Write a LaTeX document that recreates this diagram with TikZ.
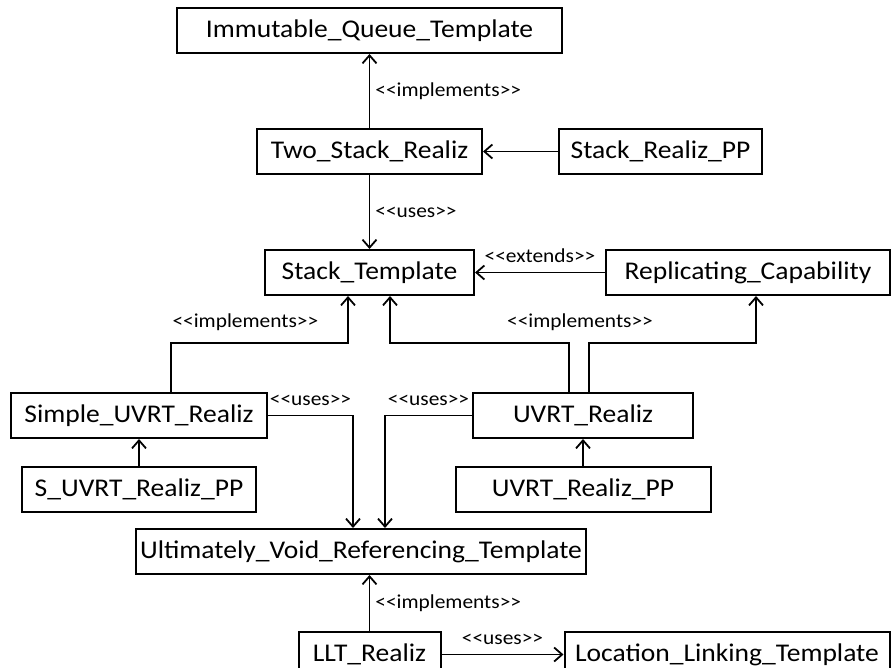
\documentclass[tikz,border=0pt]{standalone}
\usepackage{fontspec}
\setmainfont{Carlito}[FakeStretch=1.08]
\usetikzlibrary{arrows.meta,positioning}
\newcommand{\estereo}[1]{<{}<#1>{}>}
\tikzset{
    clase/.style={rectangle,draw,line width=2pt,minimum height=45pt,inner sep=0pt,font=\fontsize{25.5}{30}\selectfont},
    flecha/.style={draw,->,line width=1.8pt,>={Straight Barb[length=8pt,width=14pt]}},
    etiqueta/.style={font=\fontsize{19.8}{23}\selectfont,inner sep=1pt},
}
\begin{document}
\begin{tikzpicture}
    \useasboundingbox (0,0) rectangle (891pt,-667pt);
    \node [clase,minimum width=385pt] (iqt) at (369.5pt,-30.5pt) {Immutable\_Queue\_Template};
    \node [below=74pt of iqt,clase,minimum width=225pt] (tsr) {Two\_Stack\_Realiz};
    \node [right=75pt of tsr,clase,minimum width=203pt] (srpp) {Stack\_Realiz\_PP};
    \node [below=74pt of tsr,clase,minimum width=209pt] (st) {Stack\_Template};
    \node [right=130pt of st,clase,minimum width=284pt] (rc) {Replicating\_Capability};
    \node [below left=96pt and -4pt of st,clase,minimum width=256pt] (sur) {Simple\_UVRT\_Realiz};
    \node [below right=96pt and -3pt of st,clase,minimum width=220pt] (ur) {UVRT\_Realiz};
    \node [below=27pt of sur,clase,minimum width=234pt] (sup) {S\_UVRT\_Realiz\_PP};
    \node [below=27pt of ur,clase,minimum width=255pt] (upp) {UVRT\_Realiz\_PP};
    \node [below=232pt of st,xshift=-8.5pt,clase,minimum width=450pt] (uvrt) {Ultimately\_Void\_Referencing\_Template};
    \node [below=56pt of uvrt,xshift=8.5pt,clase,minimum width=142pt] (llt) {LLT\_Realiz};
    \node [right=122pt of llt,clase,minimum width=325pt] (llt2) {Location\_Linking\_Template};
    \path [flecha] (tsr) -- node[etiqueta,right=4pt] {\estereo{implements}} (iqt);
    \path [flecha] (srpp) -- (tsr);
    \path [flecha] (tsr) -- node[etiqueta,right=4pt] {\estereo{uses}} (st);
    \path [flecha] (rc) -- node[etiqueta,above=8pt] {\estereo{extends}} (st);
    \path [flecha] ([xshift=32pt]sur.north) -- ++(0,49pt) -| node[etiqueta,pos=0.21,above=10pt] {\estereo{implements}} ([xshift=-21.5pt]st.south);
    \path [flecha] ([xshift=-14pt]ur.north) -- ++(0,49pt) -| ([xshift=20.5pt]st.south);
    \path [flecha] ([xshift=6pt]ur.north) -- ++(0,49pt) node[etiqueta,above=10pt,xshift=-9pt] {\estereo{implements}} -| ([xshift=8pt]rc.south);
    \path [flecha] (sur.east) -| node[etiqueta,pos=0.25,above=8pt] {\estereo{uses}} ([xshift=-8pt]uvrt.north);
    \path [flecha] (ur.west) -| node[etiqueta,pos=0.25,above=8pt] {\estereo{uses}} ([xshift=24pt]uvrt.north);
    \path [flecha] (sup) -- (sur);
    \path [flecha] (upp) -- (ur);
    \path [flecha] (llt.north) -- node[etiqueta,right=4pt] {\estereo{implements}} (llt.north |- uvrt.south);
    \path [flecha] (llt) -- node[etiqueta,above=8pt] {\estereo{uses}} (llt2);
\end{tikzpicture}
\end{document}
